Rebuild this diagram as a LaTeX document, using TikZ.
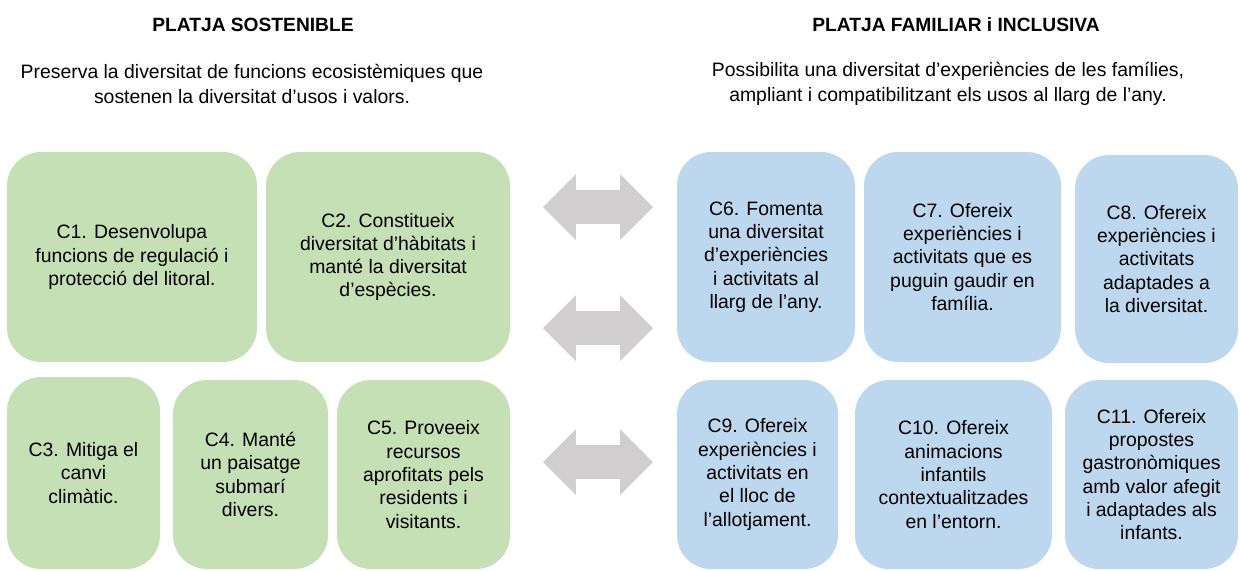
\documentclass[tikz,border=0pt]{standalone}
\usepackage{fontspec}
\setmainfont{Liberation Sans}
\usetikzlibrary{positioning,shapes.arrows}
\definecolor{verd}{HTML}{C5E0B4}
\definecolor{blau}{HTML}{BDD7EE}
\definecolor{gris}{HTML}{D0CECE}
\tikzset{
  caixa/.style={rounded corners=17pt, inner sep=0pt, align=center,
    font=\fontsize{9.7}{11.65}\selectfont},
  sost/.style={caixa, fill=verd},
  fam/.style={caixa, fill=blau},
  fletxa/.style={double arrow, fill=gris, inner xsep=0pt, inner ysep=8.25pt,
    text height=0pt, text depth=0pt, minimum height=55pt,
    double arrow head extend=8pt},
  titol/.style={font=\bfseries\fontsize{9.6}{11}\selectfont},
  lema/.style={align=center, font=\fontsize{9.7}{12.5}\selectfont}
}

\begin{document}
\begin{tikzpicture}[x=0.5pt, y=-0.5pt]
    \useasboundingbox (0,0) rectangle (1240,570);
    % capçaleres
    \node[titol] (tS) at (253,25) {PLATJA SOSTENIBLE};
    \node[titol] (tF) at (956,25) {PLATJA FAMILIAR i INCLUSIVA};
    \node[lema] (lS) at (252,84) {Preserva la diversitat de funcions ecosistèmiques que\\sostenen la diversitat d’usos i valors.};
    \node[lema] (lF) at (948,84) {Possibilita una diversitat d’experiències de les famílies,\\ampliant i compatibilitzant els usos al llarg de l’any.};
    %
    \node[sost, minimum width=125pt, minimum height=105pt] (C1) at (132,257) {C1. Desenvolupa\\funcions de regulació i\\protecció del litoral.};
    \node[sost, minimum width=122pt, minimum height=105pt] (C2) at (388,257) {C2. Constitueix\\diversitat d’hàbitats i\\manté la diversitat\\d’espècies.};
    \node[sost, minimum width=76.5pt, minimum height=96pt] (C3) at (83.5,473) {C3. Mitiga el\\canvi\\climàtic.};
    \node[sost, minimum width=77.5pt, minimum height=94.5pt] (C4) at (250.5,474.5) {C4. Manté\\un paisatge\\submarí\\divers.};
    \node[sost, minimum width=86.5pt, minimum height=94.5pt] (C5) at (423.5,474.5) {C5. Proveeix\\recursos\\aprofitats pels\\residents i\\visitants.};
    %
    \node[fam, minimum width=89pt, minimum height=105pt] (C6) at (766,257) {C6. Fomenta\\una diversitat\\d’experiències\\i activitats al\\llarg de l’any.};
    \node[fam, minimum width=98.5pt, minimum height=105pt] (C7) at (962.5,257) {C7. Ofereix\\experiències i\\activitats que es\\puguin gaudir en\\família.};
    \node[fam, minimum width=81.5pt, minimum height=104pt] (C8) at (1156.5,259) {C8. Ofereix\\experiències i\\activitats\\adaptades a\\la diversitat.};
    \node[fam, minimum width=80.5pt, minimum height=94.5pt] (C9) at (757.5,474.5) {C9. Ofereix\\experiències i\\activitats en\\el lloc de\\l’allotjament.};
    \node[fam, minimum width=98.5pt, minimum height=94.5pt] (C10) at (953.5,474.5) {C10. Ofereix\\animacions\\infantils\\contextualitzades\\en l’entorn.};
    \node[fam, minimum width=86.5pt, minimum height=94.5pt] (C11) at (1151.5,474.5) {C11. Ofereix\\propostes\\gastronòmiques\\amb valor afegit\\i adaptades als\\infants.};
    %
    \node[fletxa] (f1) at (598,207) {};
    \node[fletxa] (f2) at (598,328) {};
    \node[fletxa] (f3) at (598,462) {};
\end{tikzpicture}
\end{document}
